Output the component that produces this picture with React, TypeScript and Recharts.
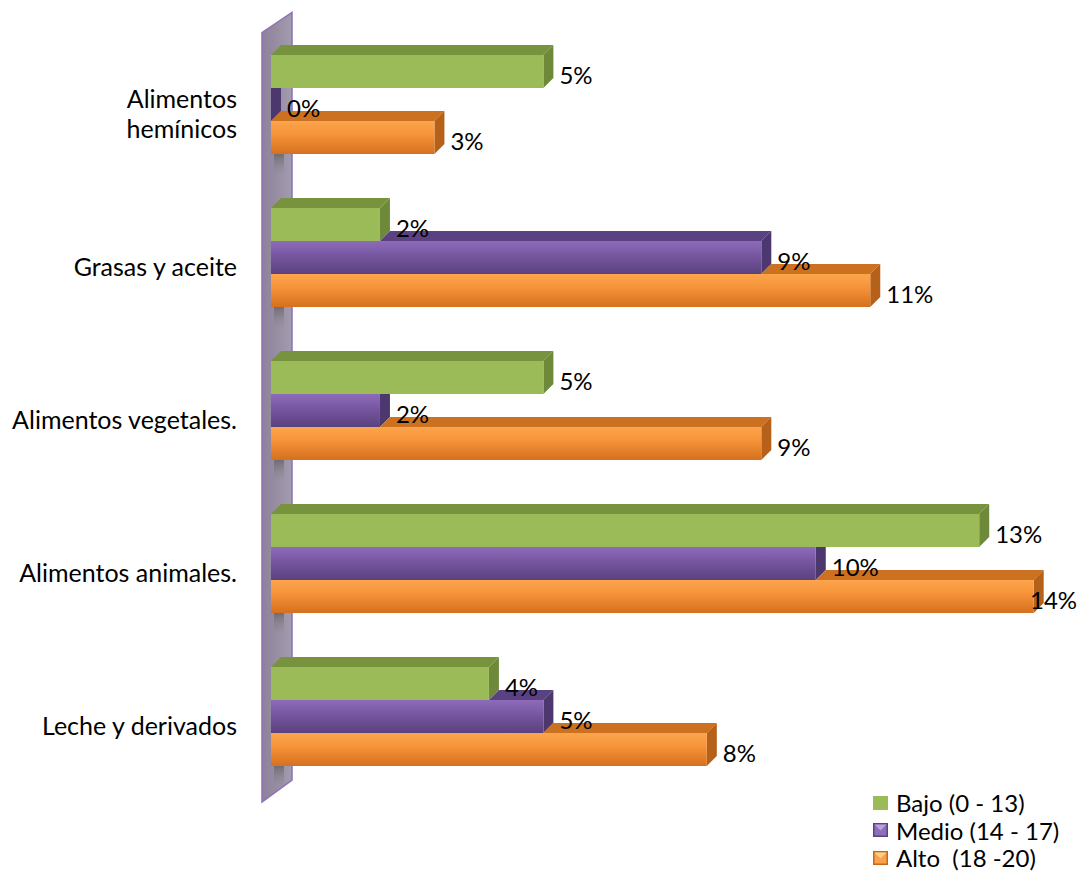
import React from 'react';
import { BarChart, Bar, XAxis, YAxis, LabelList, Legend, ReferenceArea } from 'recharts';

const categories = ['Alimentos\nhemínicos', 'Grasas y aceite', 'Alimentos vegetales.', 'Alimentos animales.', 'Leche y derivados'];
const bajo = [5, 2, 5, 13, 4];
const medio = [0, 9, 2, 10, 5];
const alto = [3, 11, 9, 14, 8];
const seriesNames = ['Bajo (0 - 13)', 'Medio (14 - 17)', 'Alto  (18 -20)'];
const X_MAX = 14.85;

const data = categories.map((name, i) => ({ name, bajo: bajo[i], medio: medio[i], alto: alto[i] }));

const FONT = 'Lato, "Liberation Sans", sans-serif';
const FS = 24;
const D = 10;
const CHART_W = 1072;

type Look = { front: string; top: string; side: string };
const looks: Record<string, Look> = {
  bajo: { front: '#9BBB59', top: '#77933D', side: '#6D8939' },
  medio: { front: 'url(#gPurple)', top: '#5A4282', side: '#4C376F' },
  alto: { front: 'url(#gOrange)', top: '#CB711F', side: '#B5611A' },
};

function makeShape(key: string, aboveKey: string | null, shadow: boolean) {
  const look = looks[key];
  return (props: any) => {
    const { x, y, height, payload, background } = props;
    const w = Math.max(0, props.width || 0);
    const h = height;
    const v = payload[key];
    const ppu = v > 0 ? w / v : background && background.width ? background.width / X_MAX : 0;
    const wa = aboveKey ? payload[aboveKey] * ppu : -1;
    const parts: React.ReactNode[] = [];
    if (shadow) {
      parts.push(<rect key="sh" x={x + 3} y={y + h} width={10} height={22} fill="url(#gShadow)" />);
    }
    if (!aboveKey) {
      parts.push(
        <polygon key="t" points={`${x},${y} ${x + D},${y - D} ${x + w + D},${y - D} ${x + w},${y}`} fill={look.top} />
      );
    } else if (w > wa) {
      parts.push(
        <polygon key="t" points={`${x + wa},${y} ${x + wa + D},${y - D} ${x + w + D},${y - D} ${x + w},${y}`} fill={look.top} />
      );
    }
    if (!aboveKey || w >= wa) {
      parts.push(
        <polygon key="s" points={`${x + w},${y} ${x + w + D},${y - D} ${x + w + D},${y + h - D} ${x + w},${y + h}`} fill={look.side} />
      );
    } else {
      parts.push(
        <polygon key="s" points={`${x + w},${y} ${x + w + D},${y} ${x + w + D},${y + h - D} ${x + w},${y + h}`} fill={look.side} />
      );
    }
    if (w > 0) {
      parts.push(<rect key="f" x={x} y={y} width={w} height={h} fill={look.front} />);
    }
    return <g>{parts}</g>;
  };
}

const makeLabel = () => (props: any) => {
  const { x, y, width, height, value } = props;
  let tx = x + Math.max(0, width) + 16;
  const maxX = CHART_W - 50;
  if (tx > maxX) tx = maxX;
  return (
    <text x={tx} y={y + height / 2 + 12} fontFamily={FONT} fontSize={FS} fill="#000">
      {`${value}%`}
    </text>
  );
};

function CategoryTick(props: any) {
  const { x, y, payload } = props;
  const lines = String(payload.value).split('\n');
  const lh = 30;
  const first = y + 18 - ((lines.length - 1) * lh) / 2;
  return (
    <text x={x} y={first} textAnchor="end" fontFamily={FONT} fontSize={25} fill="#000">
      {lines.map((l, i) => (
        <tspan key={i} x={x} dy={i === 0 ? 0 : lh}>
          {l}
        </tspan>
      ))}
    </text>
  );
}

function Wall(props: any) {
  const { x, y, height } = props;
  const L = x - 9;
  const R = x + 21;
  const h = height;
  return (
    <polygon
      points={`${L},${y + 4.5} ${R},${y - 15.5} ${R},${y + h - 13} ${L},${y + h + 9}`}
      fill="url(#gWall)"
      stroke="#8D72B6"
      strokeWidth={1.5}
    />
  );
}

function LegendIcon({ i }: { i: number }) {
  if (i === 0) return <svg width={15} height={14}><rect x={0} y={0} width={15} height={14} fill="#9BBB59" /></svg>;
  const c = i === 1 ? ['#8E6DBA', '#5B427F', '#B9A2DA'] : ['#F9A24A', '#C8661A', '#FFD08A'];
  return (
    <svg width={15} height={14}>
      <rect x={0} y={0} width={15} height={14} fill={c[1]} />
      <rect x={1.5} y={1.5} width={12} height={11} fill={c[0]} />
      <polygon points="1.5,1.5 13.5,1.5 7.5,7.5" fill={c[2]} />
    </svg>
  );
}

const renderLegend = () => (
  <div style={{ fontFamily: FONT, fontSize: FS, color: '#000' }}>
    {seriesNames.map((n, i) => (
      <div key={n} style={{ display: 'flex', alignItems: 'center', height: 27.5 }}>
        <LegendIcon i={i} />
        <span style={{ marginLeft: 8, whiteSpace: 'pre', lineHeight: '27.5px' }}>{n}</span>
      </div>
    ))}
  </div>
);

export default function App() {
  return (
    <>
      <style>{`html, body { overflow: hidden; }`}</style>
      <BarChart
        width={CHART_W}
        height={863}
        data={data}
        layout="vertical"
        barGap={0}
        margin={{ top: 20, right: 0, bottom: 0, left: 0 }}
      >
        <defs>
          <linearGradient id="gPurple" x1="0" y1="0" x2="0" y2="1">
            <stop offset="0%" stopColor="#8D6BBA" />
            <stop offset="45%" stopColor="#7656A0" />
            <stop offset="100%" stopColor="#5A417E" />
          </linearGradient>
          <linearGradient id="gOrange" x1="0" y1="0" x2="0" y2="1">
            <stop offset="0%" stopColor="#FBA54C" />
            <stop offset="40%" stopColor="#F7943A" />
            <stop offset="100%" stopColor="#D5701E" />
          </linearGradient>
          <linearGradient id="gWall" x1="0" y1="0" x2="1" y2="0">
            <stop offset="0%" stopColor="#8C8199" />
            <stop offset="100%" stopColor="#A39BAE" />
          </linearGradient>
          <linearGradient id="gShadow" x1="0" y1="0" x2="0" y2="1">
            <stop offset="0%" stopColor="#555" stopOpacity={0.6} />
            <stop offset="100%" stopColor="#888" stopOpacity={0} />
          </linearGradient>
        </defs>
        <XAxis type="number" domain={[0, X_MAX]} hide />
        <YAxis
          type="category"
          dataKey="name"
          width={263}
          tickLine={false}
          axisLine={false}
          tickSize={0}
          tickMargin={34}
          tick={<CategoryTick />}
          interval={0}
        />
        <ReferenceArea x1={0} x2={X_MAX} shape={<Wall />} ifOverflow="visible" />
        <Legend
          layout="horizontal"
          verticalAlign="bottom"
          align="right"
          content={renderLegend}
          wrapperStyle={{ left: 865, top: 781, width: 205, height: 78 }}
        />
        <Bar dataKey="bajo" name={seriesNames[0]} barSize={33} isAnimationActive={false} shape={makeShape('bajo', null, false)}>
          <LabelList dataKey="bajo" content={makeLabel()} />
        </Bar>
        <Bar dataKey="medio" name={seriesNames[1]} barSize={33} isAnimationActive={false} shape={makeShape('medio', 'bajo', false)}>
          <LabelList dataKey="medio" content={makeLabel()} />
        </Bar>
        <Bar dataKey="alto" name={seriesNames[2]} barSize={33} isAnimationActive={false} shape={makeShape('alto', 'medio', true)}>
          <LabelList dataKey="alto" content={makeLabel()} />
        </Bar>
      </BarChart>
    </>
  );
}
